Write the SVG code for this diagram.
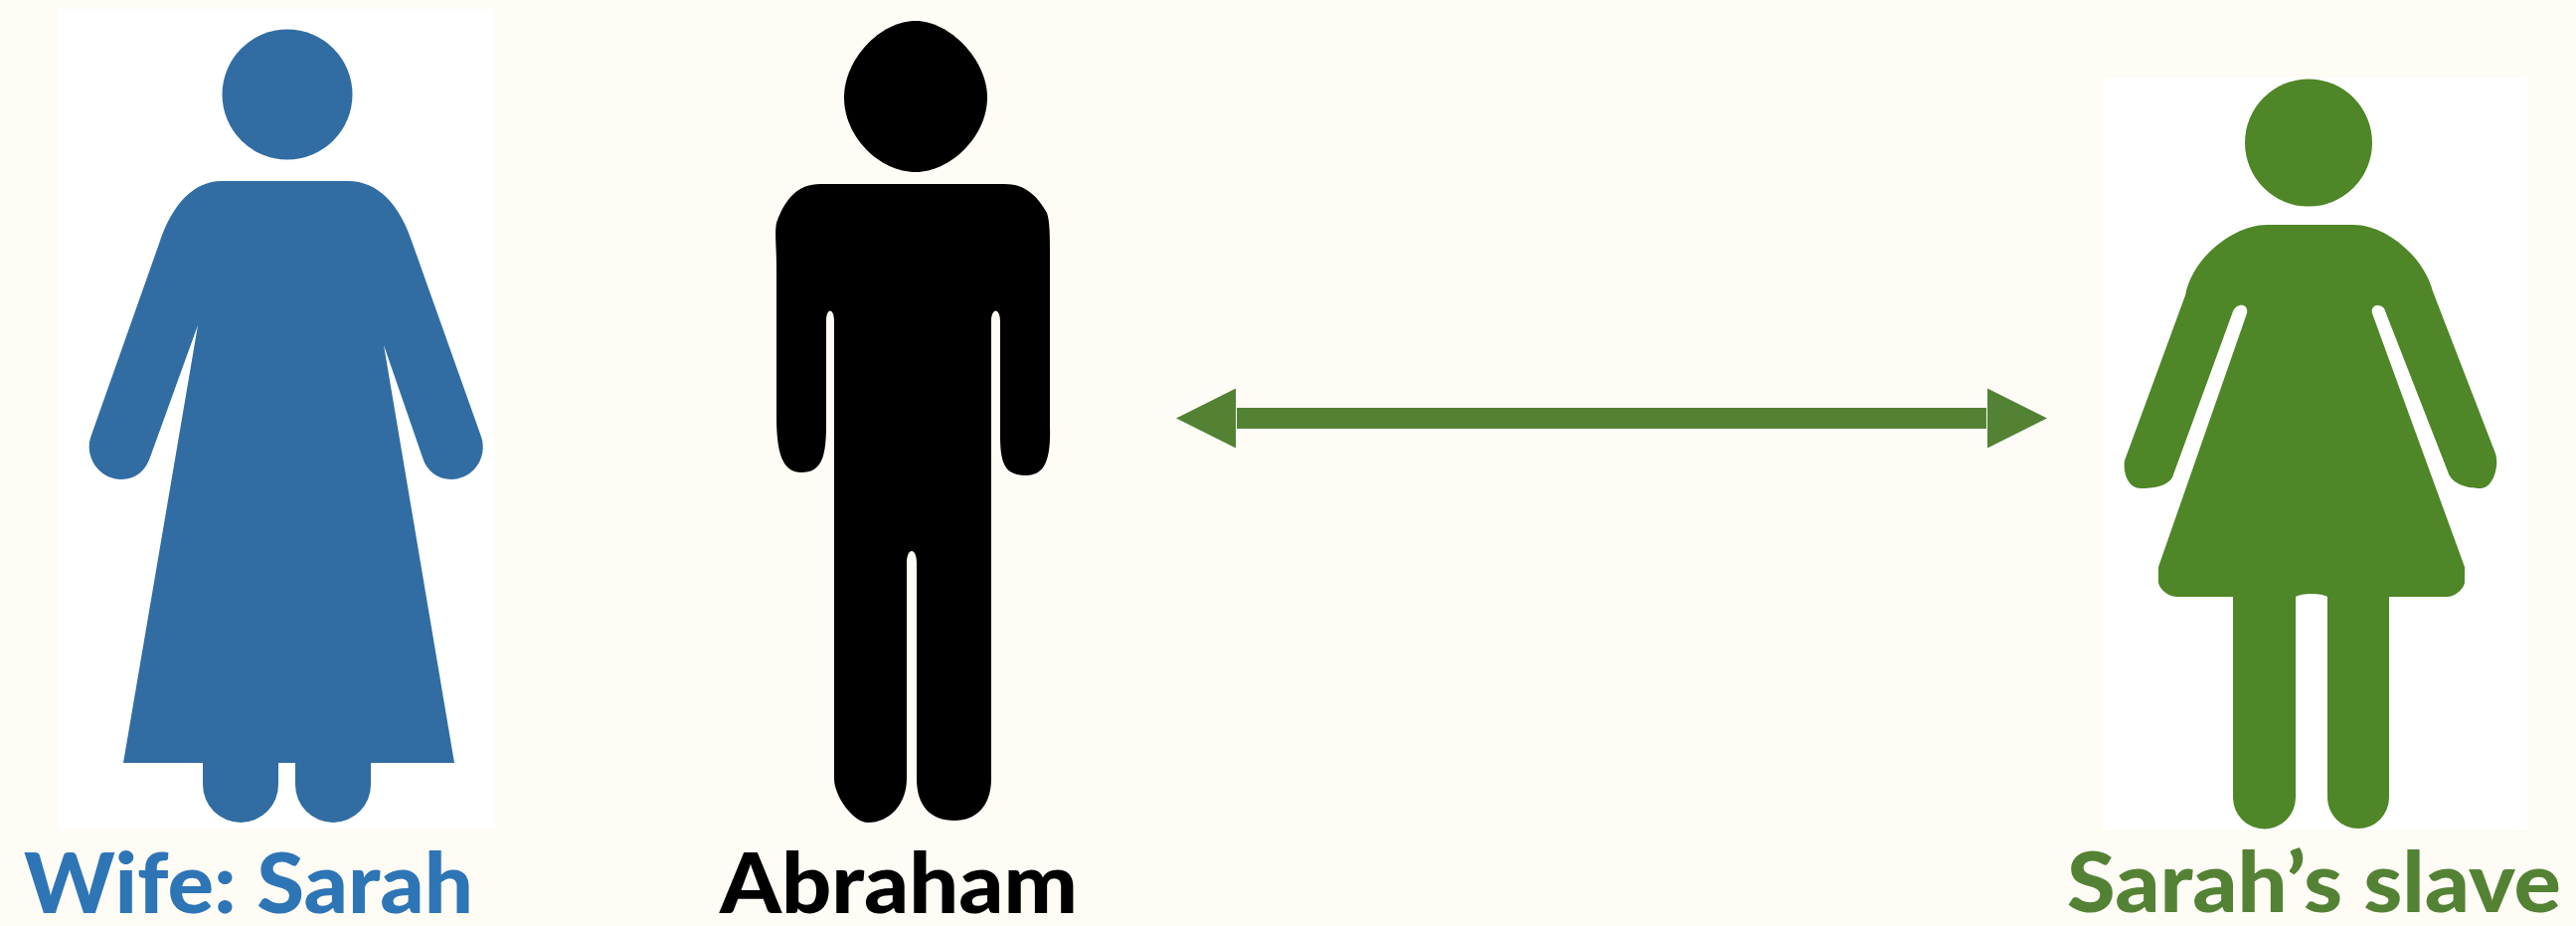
<svg xmlns="http://www.w3.org/2000/svg" width="2591" height="931" viewBox="0 0 2591 931">
<style>
.label{font-family:Lato,"Noto Sans","Liberation Sans",sans-serif;font-weight:900;font-size:84px}
.panel{fill:#ffffff}
.blue{fill:#316da3}
.green{fill:#4f8627}
.black{fill:#000000}
</style>
<defs>
<marker id="head-end" markerUnits="userSpaceOnUse" markerWidth="62" markerHeight="62" refX="0" refY="31" orient="auto"><path d="M1,1 L61,31 L1,61 Z" fill="#548235"/></marker>
<marker id="head-start" markerUnits="userSpaceOnUse" markerWidth="62" markerHeight="62" refX="62" refY="31" orient="auto"><path d="M61,1 L1,31 L61,61 Z" fill="#548235"/></marker>
</defs>
<rect width="2591" height="931" fill="#fffcf5"/>
<g id="connectors">
<line x1="1244" y1="420.500" x2="1998" y2="420.500" stroke="#548235" stroke-width="21" marker-start="url(#head-start)" marker-end="url(#head-end)"/>
</g>
<g id="sarah">
<rect class="panel" x="58" y="9" width="440" height="824"/>
<circle class="blue" cx="289" cy="95" r="65.500"/>
<path class="blue" d="M223,182 L350,182 C380,182 402,205 415,245 L484,439 C491,460 476,482 454,482 C440,482 429,473 425,460 L386,347 L457,767 L373,767 L373,789 A38,38 0 0 1 297,789 L297,767 L280,767 L280,789 A38,38 0 0 1 204,789 L204,767 L124,767 L199,327 L152,457 C147,473 137,482 122,482 C100,482 85,460 91,440 L160,245 C173,205 195,182 223,182 Z"/>
<text class="label" x="24" y="918" fill="#2e75b6" textLength="452" lengthAdjust="spacingAndGlyphs">Wife: Sarah</text>
</g>
<g id="abraham">
<path class="black" d="M921,21 C955,21 993,60 993,98 C993,138 955,173 921,173 C885,173 849,138 849,98 C849,60 885,21 921,21 Z"/>
<path class="black" d="M825,185 L1010,185 C1030,185 1042,195 1053,214 C1056,222 1056,240 1056,250 L1056,428 C1057,460 1052,478 1032,478 C1012,478 1006,468 1006,438 L1006,323 C1006,309 997,309 997,323 L997,783 C997,810 982,825 960,825 C936,825 922,810 922,783 L922,566 C922,550 912,550 912,566 L912,783 C912,808 895,827 873,827 C858,827 839,800 839,783 L839,323 C839,309 831,309 831,323 L831,428 C831,460 826,475 806,475 C786,475 781,453 781,418 L781,268 C781,248 779,234 781,224 C790,199 803,185 825,185 Z"/>
<text class="label" x="724" y="918" fill="#000000" textLength="360" lengthAdjust="spacingAndGlyphs">Abraham</text>
</g>
<g id="sarahs-slave">
<rect class="panel" x="2115" y="79" width="427" height="755"/>
<circle class="green" cx="2322" cy="143.500" r="64"/>
<path class="green" d="M2280,226 L2367,226 C2400,226 2438,258 2447,293 L2510,456 C2514,468 2508,491 2495,491 C2484,491 2466,488 2462,474 L2398,310 C2394,305 2384,306 2386,315 L2479,570 L2479,586 C2477,594 2468,600 2461,600 L2403,600 L2403,802 A31,31 0 0 1 2341,802 L2341,600 C2335,596 2315,596 2309,600 L2309,802 A31.500,31.500 0 0 1 2246,802 L2246,600 L2190,600 C2182,600 2173,594 2171,586 L2171,570 L2260,315 C2262,305 2250,304 2246,313 L2185,480 C2180,489 2165,491 2153,491 C2141,491 2135,476 2137,463 L2198,297 C2205,258 2248,226 2280,226 Z"/>
<text class="label" x="2079" y="917" fill="#548235" textLength="497" lengthAdjust="spacingAndGlyphs">Sarah’s slave</text>
</g>
</svg>
